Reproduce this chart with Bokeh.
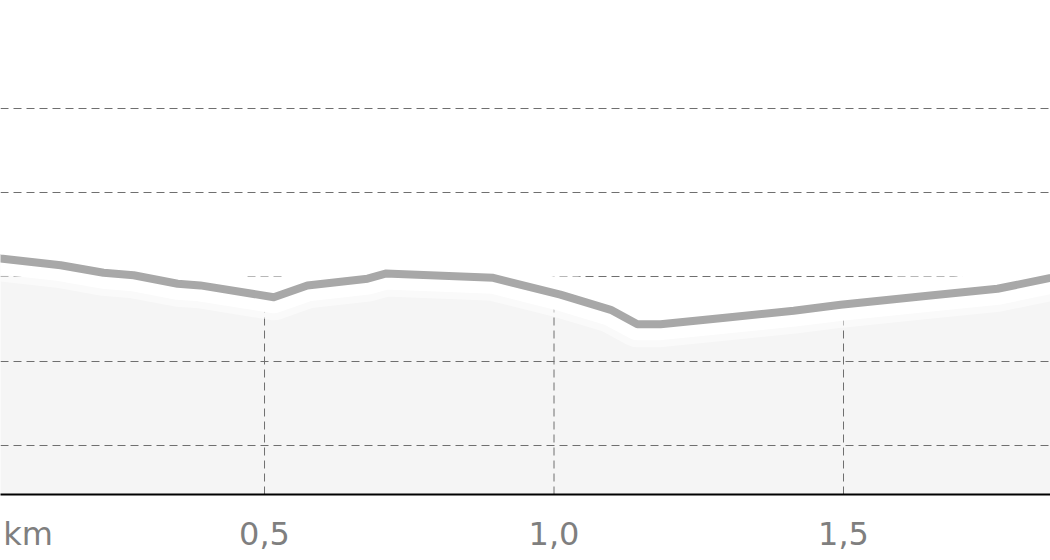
import numpy as np
from bokeh.plotting import figure
from bokeh.models import FixedTicker, Range1d
from bokeh.embed import file_html
from bokeh.resources import INLINE

# distance along route (km) and elevation (m)
dist_km = [0.000, 0.044, 0.148, 0.222, 0.274, 0.350, 0.389, 0.516, 0.574,
           0.678, 0.709, 0.895, 1.011, 1.098, 1.144, 1.184, 1.300, 1.414,
           1.495, 1.650, 1.766, 1.858, 1.909]
elev_m = [42.7, 42.2, 41.4, 40.5, 40.2, 39.2, 39.0, 37.6, 39.0,
          39.8, 40.4, 39.9, 37.9, 36.1, 34.4, 34.4, 35.2, 36.0,
          36.7, 37.8, 38.6, 39.9, 40.8]

elev_ticks = [20, 30, 40, 50, 60]
dist_ticks = [0.5, 1.0, 1.5]
dist_labels = ["0,5", "1,0", "1,5"]
unit_label = "km"

x_start, x_end = 0.0440, 1.8575
y_start, y_end = 14.18, 72.82

p = figure(width=1050, height=560, output_backend="svg", toolbar_location=None,
           x_range=Range1d(x_start, x_end), y_range=Range1d(y_start, y_end),
           min_border_left=0, min_border_right=0, min_border_top=0,
           min_border_bottom=66)
p.outline_line_color = None
p.background_fill_color = "white"
p.border_fill_color = "white"

# filled area under the profile, kept below the grid
p.varea(x=dist_km, y1=y_start, y2=elev_m, fill_color="#f5f5f5", level="image")

# vertical dashed lines only under the profile
tops = np.interp(dist_ticks, dist_km, elev_m)
p.segment(x0=dist_ticks, y0=[y_start] * len(dist_ticks), x1=dist_ticks, y1=tops,
          line_color="#6f6f6f", line_width=1, line_dash="8 5", level="underlay")

# white halo round the line, then the line
p.line(dist_km, elev_m, line_color="white", line_width=46, line_alpha=0.5,
       line_join="round")
p.line(dist_km, elev_m, line_color="white", line_width=32, line_join="round")
p.line(dist_km, elev_m, line_color="#a8a8a8", line_width=8, line_join="round")

p.yaxis.visible = False
p.ygrid.ticker = FixedTicker(ticks=elev_ticks)
p.ygrid.grid_line_color = "#6f6f6f"
p.ygrid.grid_line_dash = "8 5"
p.ygrid.grid_line_width = 1
p.xgrid.grid_line_color = None

unit_pos = 0.0915
p.xaxis.ticker = FixedTicker(ticks=[unit_pos] + dist_ticks)
overrides = {unit_pos: unit_label}
overrides.update({t: s for t, s in zip(dist_ticks, dist_labels)})
p.xaxis.major_label_overrides = overrides
p.xaxis.axis_line_color = "black"
p.xaxis.axis_line_width = 2
p.xaxis.major_tick_line_color = None
p.xaxis.minor_tick_line_color = None
p.xaxis.major_tick_out = 0
p.xaxis.major_tick_in = 0
p.xaxis.major_label_standoff = 20
p.xaxis.major_label_text_font = "DejaVu Sans"
p.xaxis.major_label_text_font_size = "32px"
p.xaxis.major_label_text_color = "#7f7f7f"

open("out.html", "w").write(file_html(p, INLINE))
